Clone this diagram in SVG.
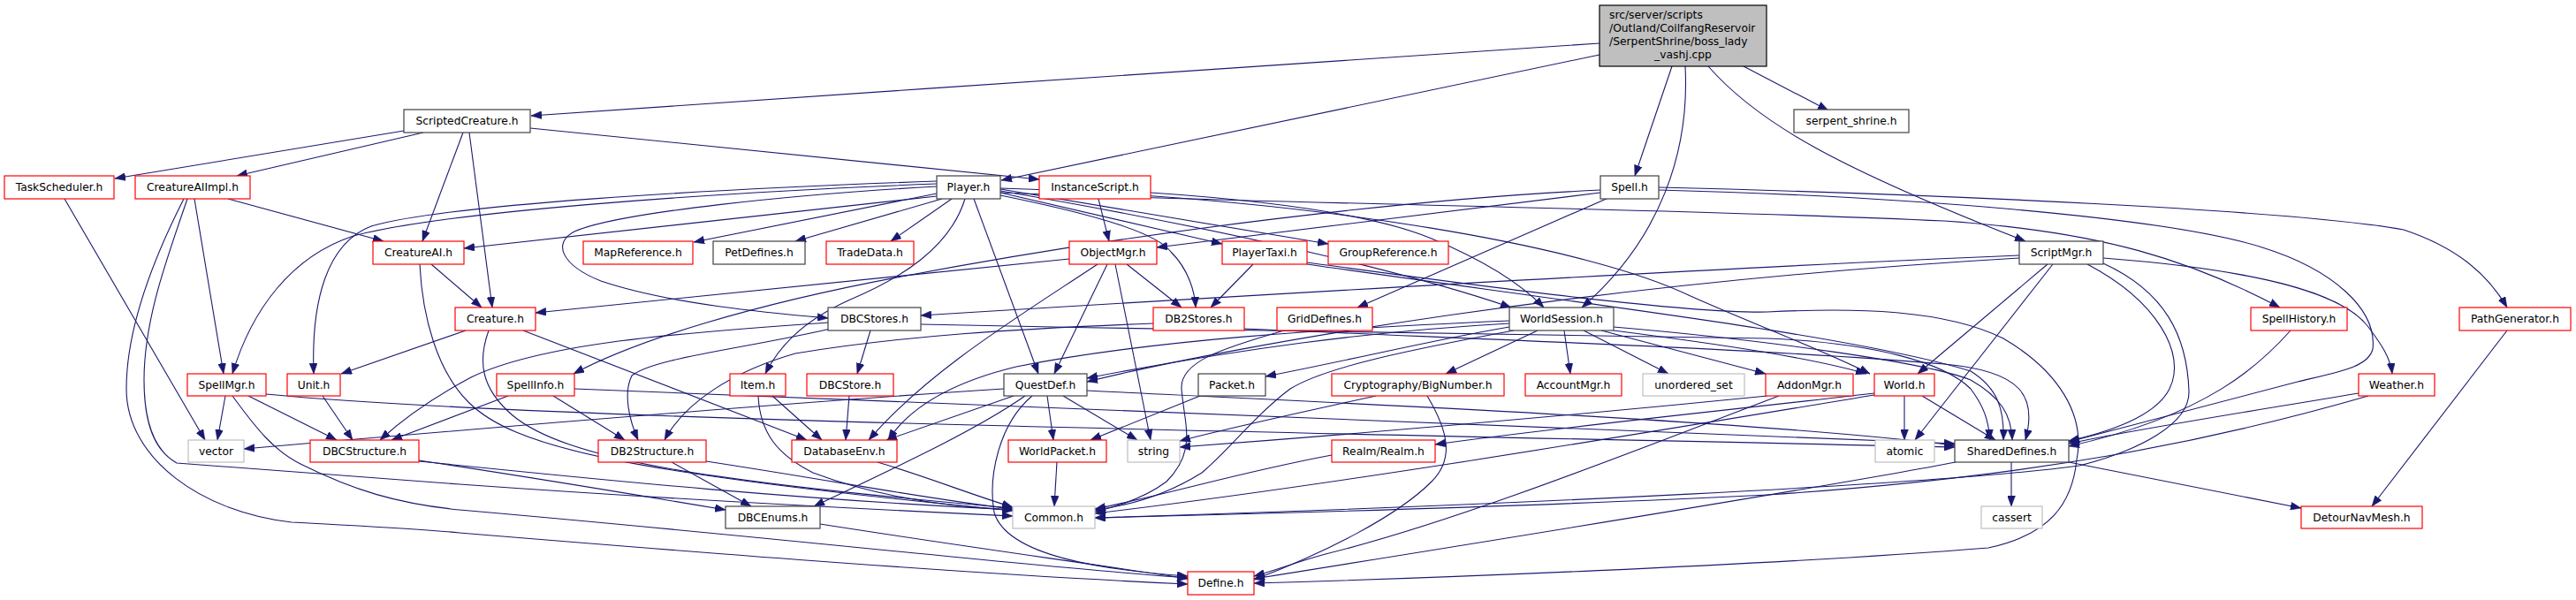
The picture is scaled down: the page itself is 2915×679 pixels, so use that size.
<svg xmlns="http://www.w3.org/2000/svg" width="2915" height="679" viewBox="0 0 2915 679">
<style>
.nd rect{fill:#fff;stroke:#404040;stroke-width:1.2}
.r rect{stroke:#ff0000}
.g rect{stroke:#bfbfbf}
text{font-family:"DejaVu Sans","Liberation Sans",sans-serif;font-size:12.3px;fill:#000;text-anchor:middle}
.e path{fill:none;stroke:#191970;stroke-width:1.1;marker-end:url(#a)}
</style>
<defs>
<marker id="a" markerUnits="userSpaceOnUse" markerWidth="12" markerHeight="9" refX="12" refY="4.5" orient="auto">
<path d="M0,0 L12,4.5 L0,9 Z" fill="#191970" stroke="#191970" stroke-width="0.5"/>
</marker>
</defs>
<rect width="2915" height="679" fill="#fff"/>
<g id="edges" class="e">
<path d="M1810,49 C1450,72 1000,104 601,131"/>
<path d="M1810,62 L1133,204"/>
<path d="M1892,75 L1850,199"/>
<path d="M1907,75 C1912,170 1880,270 1790,348"/>
<path d="M1973,75 L2069,125"/>
<path d="M1933,75 C1990,140 2080,190 2292,273"/>
<path d="M457,148 L130,202"/>
<path d="M479,150 L268,199"/>
<path d="M524,150 L478,273"/>
<path d="M531,150 L557,348"/>
<path d="M600,145 L1176,203"/>
<path d="M73,225 L232,498"/>
<path d="M258,225 L434,273"/>
<path d="M220,225 L253,423"/>
<path d="M212,225 C190,290 163,360 163,430 C163,480 175,510 200,524 L520,548 C800,568 1000,577 1146,584"/>
<path d="M208,225 C175,290 143,370 143,440 C143,520 230,580 330,591 C420,596 470,598 520,603 C800,626 1100,650 1344,661"/>
<path d="M488,299 L545,348"/>
<path d="M475,299 C478,360 495,420 530,455 C580,505 700,535 1146,578"/>
<path d="M1060,222 L525,281"/>
<path d="M1060,219 L785,274"/>
<path d="M1066,225 L900,273"/>
<path d="M1077,225 L1008,273"/>
<path d="M1060,211 C900,220 700,240 650,262 C625,275 635,300 680,318 C760,345 880,355 937,360"/>
<path d="M1060,208 C800,218 500,240 400,267 C330,290 285,350 263,423"/>
<path d="M1060,205 C800,214 500,232 420,256 C370,275 352,340 355,423"/>
<path d="M1102,225 L1175,423"/>
<path d="M1092,225 C1075,280 1020,315 960,340 C905,365 880,395 866,423"/>
<path d="M1132,218 L1383,276"/>
<path d="M1132,214 L1503,276"/>
<path d="M1132,221 C1250,245 1310,265 1325,285 C1345,305 1352,330 1353,348"/>
<path d="M1132,216 C1400,262 1600,310 1710,348"/>
<path d="M1132,213 C1500,225 1800,280 1913,335 C1980,365 2060,395 2116,423"/>
<path d="M1132,218 C1500,232 1900,236 2200,250 C2380,262 2480,295 2580,348"/>
<path d="M1243,225 L1255,273"/>
<path d="M1302,218 C1450,228 1560,245 1620,270 C1680,295 1720,320 1747,348"/>
<path d="M1811,215 C1600,225 1300,260 1020,313 C850,345 720,385 649,423"/>
<path d="M1811,218 L1309,280"/>
<path d="M1820,224 L1536,348"/>
<path d="M1877,212 C2200,220 2600,238 2720,260 C2780,280 2815,310 2837,348"/>
<path d="M1877,215 C2150,222 2450,245 2560,280 C2640,305 2690,350 2685,395 C2680,415 2650,420 2600,432 C2500,458 2420,480 2341,500"/>
<path d="M1453,374 C1380,395 1335,410 1337,440 C1340,480 1355,510 1320,545 C1300,560 1270,572 1239,579"/>
<path d="M1210,293 L606,354"/>
<path d="M1253,299 L1193,423"/>
<path d="M1262,299 L1302,498"/>
<path d="M1275,299 L1337,348"/>
<path d="M1242,299 C1150,360 1050,420 983,498"/>
<path d="M1418,299 L1370,348"/>
<path d="M1479,299 C1800,345 2100,380 2230,420 C2262,440 2268,465 2267,498"/>
<path d="M1479,297 C1650,320 1900,355 2000,353 C2100,348 2200,350 2267,383 C2330,420 2360,470 2350,520 C2345,570 2320,605 2250,620 C2000,640 1600,655 1419,660"/>
<path d="M985,374 L970,423"/>
<path d="M937,365 C800,375 620,385 533,427 C490,450 455,475 430,498"/>
<path d="M940,372 C840,395 740,405 715,425 C705,445 712,475 722,498"/>
<path d="M1042,367 C1400,375 1800,378 2000,383 C2120,388 2200,410 2230,440 C2245,460 2250,475 2252,498"/>
<path d="M1305,366 C1150,372 1020,380 900,400 C830,420 775,455 752,498"/>
<path d="M1408,372 C1700,385 2000,395 2200,412 C2290,420 2305,450 2292,498"/>
<path d="M1826,370 C2000,385 2180,410 2230,430 C2265,450 2276,470 2277,498"/>
<path d="M1826,374 C1950,390 2050,405 2112,423"/>
<path d="M1740,374 L1636,423"/>
<path d="M1770,374 L1777,423"/>
<path d="M1792,374 L1888,423"/>
<path d="M1812,374 L1998,423"/>
<path d="M1708,370 C1620,385 1540,405 1432,426"/>
<path d="M1708,366 C1550,375 1400,395 1230,428"/>
<path d="M1708,363 C1500,372 1300,385 1150,415 C1080,432 1030,460 1005,498"/>
<path d="M1713,374 C1600,395 1500,415 1460,440 C1420,470 1390,510 1360,535 C1320,560 1280,572 1239,577"/>
<path d="M2285,289 C1900,305 1400,335 1042,357"/>
<path d="M2285,292 C1800,320 1400,390 1230,432"/>
<path d="M2317,299 L2170,423"/>
<path d="M2323,299 L2167,498"/>
<path d="M2362,299 C2440,340 2475,400 2455,440 C2440,470 2390,488 2341,499"/>
<path d="M2380,298 C2450,330 2475,380 2477,443 C2478,480 2420,510 2353,527 C2200,548 1700,572 1239,586"/>
<path d="M2380,292 C2550,305 2650,330 2680,370 C2695,390 2705,405 2707,423"/>
<path d="M2155,448 L2155,498"/>
<path d="M2175,448 L2258,498"/>
<path d="M2121,445 C1950,465 1750,485 1624,503"/>
<path d="M2121,447 C1800,500 1500,550 1239,581"/>
<path d="M2000,448 C1800,468 1550,490 1335,506"/>
<path d="M2013,448 C1850,510 1650,590 1500,627 C1470,635 1445,645 1419,652"/>
<path d="M1557,448 C1480,465 1400,482 1335,499"/>
<path d="M1615,448 C1640,490 1645,520 1620,545 C1580,585 1500,625 1419,656"/>
<path d="M1507,515 C1400,535 1320,560 1239,576"/>
<path d="M1358,448 L1234,498"/>
<path d="M1196,523 L1193,573"/>
<path d="M1185,448 L1192,498"/>
<path d="M1203,448 L1287,498"/>
<path d="M1147,448 L1003,498"/>
<path d="M1160,448 C1100,490 1000,535 921,573"/>
<path d="M1168,448 C1130,480 1118,540 1125,580 C1140,630 1250,645 1344,652"/>
<path d="M1230,442 C1600,460 2000,478 2212,504"/>
<path d="M1136,440 C900,455 600,480 276,508"/>
<path d="M961,448 L957,498"/>
<path d="M874,448 L930,498"/>
<path d="M858,448 C860,490 880,515 920,535 C1000,565 1080,574 1146,577"/>
<path d="M527,374 L386,423"/>
<path d="M553,374 C540,410 545,440 580,470 C640,520 800,545 1146,575"/>
<path d="M592,374 L913,498"/>
<path d="M255,448 L246,498"/>
<path d="M281,448 L381,498"/>
<path d="M301,446 C600,475 1400,488 2212,506"/>
<path d="M263,448 C290,485 310,510 340,525 C400,555 450,570 520,577 C900,610 1150,640 1344,654"/>
<path d="M365,448 L399,498"/>
<path d="M575,448 L443,498"/>
<path d="M626,448 L707,498"/>
<path d="M650,440 C1000,455 1500,470 2212,502"/>
<path d="M474,521 C600,540 720,560 821,577"/>
<path d="M474,522 C700,545 900,565 1146,577"/>
<path d="M760,523 L850,573"/>
<path d="M799,522 C950,545 1050,565 1146,576"/>
<path d="M993,523 C1050,540 1100,560 1146,574"/>
<path d="M928,593 C1100,620 1250,640 1344,655"/>
<path d="M2276,523 L2276,573"/>
<path d="M2341,523 L2604,575"/>
<path d="M2213,523 C2100,545 1700,610 1419,655"/>
<path d="M2837,374 L2684,573"/>
<path d="M2592,374 C2560,410 2500,470 2341,505"/>
<path d="M2669,445 C2550,465 2420,485 2341,502"/>
<path d="M2680,448 C2500,500 2300,540 2000,560 C1700,575 1400,582 1239,586"/>
</g>
<g id="n_main"><rect x="1810" y="6" width="189" height="69" fill="#bfbfbf" stroke="#000" stroke-width="1.2"/>
<text x="1821" y="21" style="text-anchor:start">src/server/scripts</text>
<text x="1821" y="36" style="text-anchor:start">/Outland/CoilfangReservoir</text>
<text x="1821" y="51" style="text-anchor:start">/SerpentShrine/boss_lady</text>
<text x="1904.5" y="66">_vashj.cpp</text></g>
<g id="n_ScriptedCreature" class="nd"><rect x="457" y="124" width="143" height="26"/><text x="528.5" y="140.5">ScriptedCreature.h</text></g>
<g id="n_serpent_shrine" class="nd"><rect x="2030" y="124" width="130" height="26"/><text x="2095" y="140.5">serpent_shrine.h</text></g>
<g id="n_TaskScheduler" class="nd r"><rect x="5" y="199" width="124" height="26"/><text x="67" y="215.5">TaskScheduler.h</text></g>
<g id="n_CreatureAIImpl" class="nd r"><rect x="153" y="199" width="130" height="26"/><text x="218" y="215.5">CreatureAIImpl.h</text></g>
<g id="n_Player" class="nd"><rect x="1060" y="199" width="72" height="26"/><text x="1096" y="215.5">Player.h</text></g>
<g id="n_InstanceScript" class="nd r"><rect x="1176" y="199" width="126" height="26"/><text x="1239" y="215.5">InstanceScript.h</text></g>
<g id="n_Spell" class="nd"><rect x="1811" y="199" width="66" height="26"/><text x="1844" y="215.5">Spell.h</text></g>
<g id="n_CreatureAI" class="nd r"><rect x="422" y="273" width="103" height="26"/><text x="473.5" y="289.5">CreatureAI.h</text></g>
<g id="n_MapReference" class="nd r"><rect x="660" y="273" width="124" height="26"/><text x="722" y="289.5">MapReference.h</text></g>
<g id="n_PetDefines" class="nd"><rect x="807" y="273" width="104" height="26"/><text x="859" y="289.5">PetDefines.h</text></g>
<g id="n_TradeData" class="nd r"><rect x="935" y="273" width="99" height="26"/><text x="984.5" y="289.5">TradeData.h</text></g>
<g id="n_ObjectMgr" class="nd r"><rect x="1210" y="273" width="99" height="26"/><text x="1259.5" y="289.5">ObjectMgr.h</text></g>
<g id="n_PlayerTaxi" class="nd r"><rect x="1383" y="273" width="96" height="26"/><text x="1431" y="289.5">PlayerTaxi.h</text></g>
<g id="n_GroupReference" class="nd r"><rect x="1503" y="273" width="136" height="26"/><text x="1571" y="289.5">GroupReference.h</text></g>
<g id="n_ScriptMgr" class="nd"><rect x="2285" y="273" width="95" height="26"/><text x="2332.5" y="289.5">ScriptMgr.h</text></g>
<g id="n_Creature" class="nd r"><rect x="515" y="348" width="91" height="26"/><text x="560.5" y="364.5">Creature.h</text></g>
<g id="n_DBCStores" class="nd"><rect x="937" y="348" width="105" height="26"/><text x="989.5" y="364.5">DBCStores.h</text></g>
<g id="n_DB2Stores" class="nd r"><rect x="1305" y="348" width="103" height="26"/><text x="1356.5" y="364.5">DB2Stores.h</text></g>
<g id="n_GridDefines" class="nd r"><rect x="1445" y="348" width="108" height="26"/><text x="1499" y="364.5">GridDefines.h</text></g>
<g id="n_WorldSession" class="nd"><rect x="1708" y="348" width="118" height="26"/><text x="1767" y="364.5">WorldSession.h</text></g>
<g id="n_SpellHistory" class="nd r"><rect x="2547" y="348" width="109" height="26"/><text x="2601.5" y="364.5">SpellHistory.h</text></g>
<g id="n_PathGenerator" class="nd r"><rect x="2783" y="348" width="126" height="26"/><text x="2846" y="364.5">PathGenerator.h</text></g>
<g id="n_SpellMgr" class="nd r"><rect x="212" y="423" width="89" height="25"/><text x="256.5" y="439.5">SpellMgr.h</text></g>
<g id="n_Unit" class="nd r"><rect x="325" y="423" width="60" height="25"/><text x="355" y="439.5">Unit.h</text></g>
<g id="n_SpellInfo" class="nd r"><rect x="562" y="423" width="88" height="25"/><text x="606" y="439.5">SpellInfo.h</text></g>
<g id="n_Item" class="nd r"><rect x="826" y="423" width="63" height="25"/><text x="857.5" y="439.5">Item.h</text></g>
<g id="n_DBCStore" class="nd r"><rect x="913" y="423" width="98" height="25"/><text x="962" y="439.5">DBCStore.h</text></g>
<g id="n_QuestDef" class="nd"><rect x="1136" y="423" width="94" height="25"/><text x="1183" y="439.5">QuestDef.h</text></g>
<g id="n_Packet" class="nd"><rect x="1356" y="423" width="76" height="25"/><text x="1394" y="439.5">Packet.h</text></g>
<g id="n_BigNumber" class="nd r"><rect x="1507" y="423" width="195" height="25"/><text x="1604.5" y="439.5">Cryptography/BigNumber.h</text></g>
<g id="n_AccountMgr" class="nd r"><rect x="1726" y="423" width="109" height="25"/><text x="1780.5" y="439.5">AccountMgr.h</text></g>
<g id="n_unordered_set" class="nd g"><rect x="1859" y="423" width="115" height="25"/><text x="1916.5" y="439.5">unordered_set</text></g>
<g id="n_AddonMgr" class="nd r"><rect x="1998" y="423" width="99" height="25"/><text x="2047.5" y="439.5">AddonMgr.h</text></g>
<g id="n_World" class="nd r"><rect x="2121" y="423" width="68" height="25"/><text x="2155" y="439.5">World.h</text></g>
<g id="n_Weather" class="nd r"><rect x="2669" y="423" width="86" height="25"/><text x="2712" y="439.5">Weather.h</text></g>
<g id="n_vector" class="nd g"><rect x="213" y="498" width="63" height="25"/><text x="244.5" y="514.5">vector</text></g>
<g id="n_DBCStructure" class="nd r"><rect x="351" y="498" width="123" height="25"/><text x="412.5" y="514.5">DBCStructure.h</text></g>
<g id="n_DB2Structure" class="nd r"><rect x="677" y="498" width="122" height="25"/><text x="738" y="514.5">DB2Structure.h</text></g>
<g id="n_DatabaseEnv" class="nd r"><rect x="896" y="498" width="119" height="25"/><text x="955.5" y="514.5">DatabaseEnv.h</text></g>
<g id="n_WorldPacket" class="nd r"><rect x="1141" y="498" width="111" height="25"/><text x="1196.5" y="514.5">WorldPacket.h</text></g>
<g id="n_string" class="nd g"><rect x="1276" y="498" width="59" height="25"/><text x="1305.5" y="514.5">string</text></g>
<g id="n_Realm" class="nd r"><rect x="1507" y="498" width="117" height="25"/><text x="1565.5" y="514.5">Realm/Realm.h</text></g>
<g id="n_atomic" class="nd g"><rect x="2122" y="498" width="67" height="25"/><text x="2155.5" y="514.5">atomic</text></g>
<g id="n_SharedDefines" class="nd"><rect x="2212" y="498" width="129" height="25"/><text x="2276.5" y="514.5">SharedDefines.h</text></g>
<g id="n_DBCEnums" class="nd"><rect x="821" y="573" width="107" height="25"/><text x="874.5" y="589.5">DBCEnums.h</text></g>
<g id="n_Common" class="nd g"><rect x="1146" y="573" width="93" height="25"/><text x="1192.5" y="589.5">Common.h</text></g>
<g id="n_cassert" class="nd g"><rect x="2242" y="573" width="69" height="25"/><text x="2276.5" y="589.5">cassert</text></g>
<g id="n_DetourNavMesh" class="nd r"><rect x="2604" y="573" width="137" height="25"/><text x="2672.5" y="589.5">DetourNavMesh.h</text></g>
<g id="n_Define" class="nd r"><rect x="1344" y="647" width="75" height="26"/><text x="1381.5" y="663.5">Define.h</text></g>
</svg>
